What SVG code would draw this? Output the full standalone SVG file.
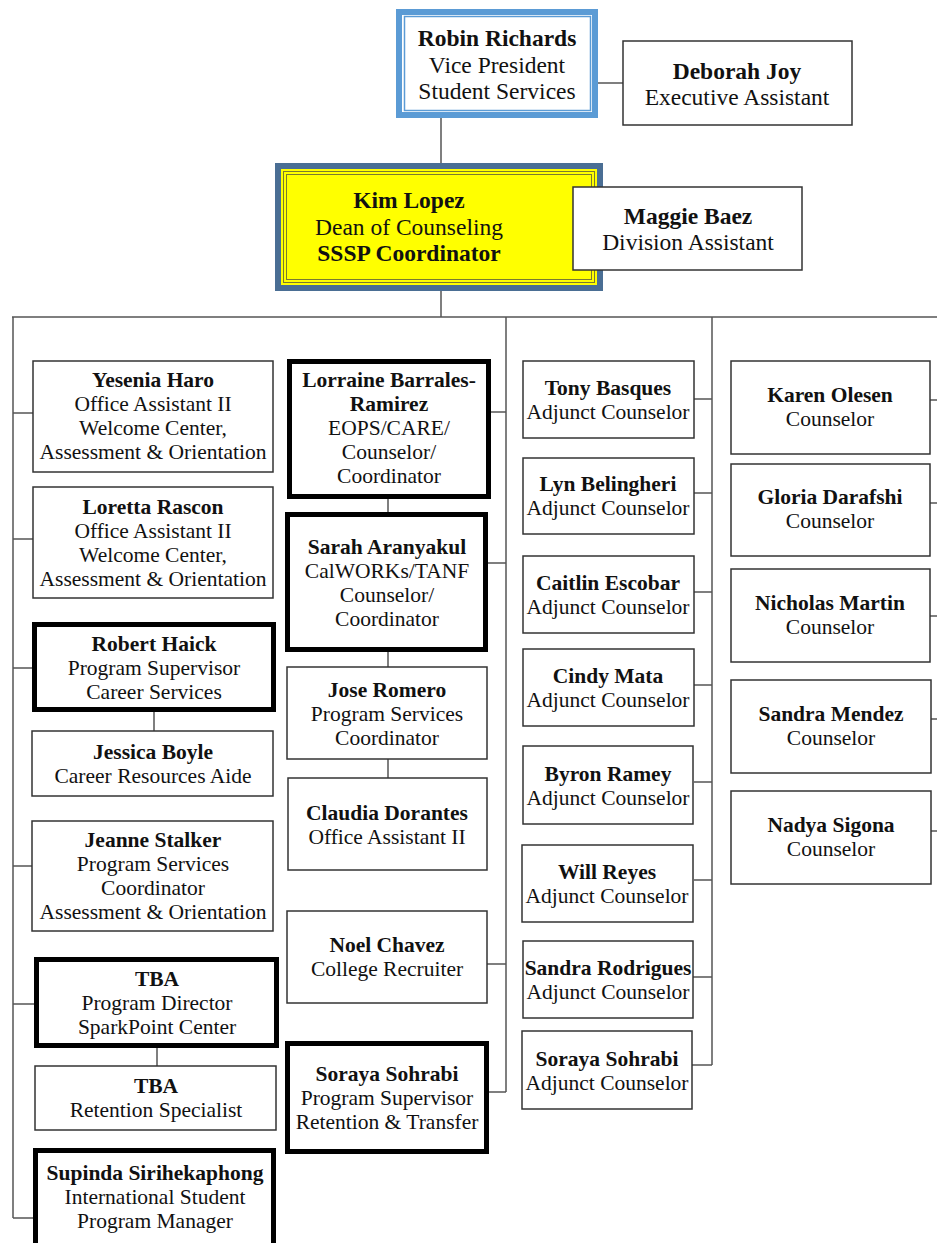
<svg xmlns="http://www.w3.org/2000/svg" width="937" height="1243" viewBox="0 0 937 1243">
<style>
text{font-family:"Liberation Serif","Times New Roman",serif;fill:#111;text-anchor:middle}
.t{font-size:21.5px}
.tt{font-size:23.5px}
.b{font-weight:bold}
.box{fill:#fff;stroke:#333;stroke-width:1.5}
.thick{fill:#fff;stroke:#000;stroke-width:5}
.con{stroke:#555;stroke-width:1.5;fill:none}
</style>
<rect width="937" height="1243" fill="#fff"/>
<g id="connectors">
<path class="con" d="M441 118V163M598 83H623M603 229H573M441 291V317M12 317H937"/>
<path class="con" d="M13 317V1218M13 413H33M13 539H33M13 668H32M13 866H32M13 1004H34M13 1218H33M154 712V731M157 1048V1066"/>
<path class="con" d="M506 317V1092M491 412H506M488 563H506M487 964H506M489 1092H506M388 499V512M388 652V667M388 759V778"/>
<path class="con" d="M712 317V1065M694 399H712M694 493H712M694 592H712M694 685H712M694 782H712M694 880H712M693 977H712M692 1065H712"/>
<path class="con" d="M930 400H937M930 503H937M930 616H937M931 719H937M930 831H937"/>
</g>
<g id="robin">
<rect x="399" y="12" width="196" height="103" fill="#fff" stroke="#5b9bd5" stroke-width="6"/>
<rect x="404.5" y="16.5" width="186" height="94" fill="none" stroke="#5b9bd5" stroke-width="1.5"/>
<text class="tt b" x="497" y="46">Robin Richards</text>
<text class="tt" x="497" y="73">Vice President</text>
<text class="tt" x="497" y="99">Student Services</text>
</g>
<g id="deborah">
<rect class="box" x="623" y="41" width="229" height="84"/>
<text class="tt b" x="737" y="79">Deborah Joy</text>
<text class="tt" x="737" y="105">Executive Assistant</text>
</g>
<g id="kim">
<rect x="278" y="166" width="322" height="122" fill="#ffff00" stroke="#4a6e94" stroke-width="6"/>
<rect x="283.5" y="171.5" width="311" height="111" fill="none" stroke="#7a7a30" stroke-width="1"/>
<rect x="286.5" y="174.5" width="305" height="105" fill="none" stroke="#7a7a30" stroke-width="1"/>
<text class="tt b" x="409" y="208">Kim Lopez</text>
<text class="tt" x="409" y="235">Dean of Counseling</text>
<text class="tt b" x="409" y="261">SSSP Coordinator</text>
</g>
<g id="maggie">
<rect class="box" x="573" y="187" width="229" height="83"/>
<text class="tt b" x="688" y="224">Maggie Baez</text>
<text class="tt" x="688" y="250">Division Assistant</text>
</g>
<g id="yesenia">
<rect class="box" x="33" y="361" width="240" height="111"/>
<text class="t b" x="153" y="387">Yesenia Haro</text>
<text class="t" x="153" y="411">Office Assistant II</text>
<text class="t" x="153" y="435">Welcome Center,</text>
<text class="t" x="153" y="459">Assessment &amp; Orientation</text>
</g>
<g id="loretta">
<rect class="box" x="33" y="487" width="240" height="111"/>
<text class="t b" x="153" y="514">Loretta Rascon</text>
<text class="t" x="153" y="538">Office Assistant II</text>
<text class="t" x="153" y="562">Welcome Center,</text>
<text class="t" x="153" y="586">Assessment &amp; Orientation</text>
</g>
<g id="robert">
<rect class="thick" x="34.5" y="624.5" width="239" height="85"/>
<text class="t b" x="154" y="651">Robert Haick</text>
<text class="t" x="154" y="675">Program Supervisor</text>
<text class="t" x="154" y="699">Career Services</text>
</g>
<g id="jessica">
<rect class="box" x="32" y="731" width="241" height="65"/>
<text class="t b" x="153" y="759">Jessica Boyle</text>
<text class="t" x="153" y="783">Career Resources Aide</text>
</g>
<g id="jeanne">
<rect class="box" x="32" y="821" width="241" height="110"/>
<text class="t b" x="153" y="847">Jeanne Stalker</text>
<text class="t" x="153" y="871">Program Services</text>
<text class="t" x="153" y="895">Coordinator</text>
<text class="t" x="153" y="919">Assessment &amp; Orientation</text>
</g>
<g id="tba-director">
<rect class="thick" x="36.5" y="959.5" width="240" height="86"/>
<text class="t b" x="157" y="986">TBA</text>
<text class="t" x="157" y="1010">Program Director</text>
<text class="t" x="157" y="1034">SparkPoint Center</text>
</g>
<g id="tba-retention">
<rect class="box" x="35" y="1066" width="241" height="64"/>
<text class="t b" x="156" y="1093">TBA</text>
<text class="t" x="156" y="1117">Retention Specialist</text>
</g>
<g id="supinda">
<rect class="thick" x="35.5" y="1150.5" width="238" height="110"/>
<text class="t b" x="155" y="1180">Supinda Sirihekaphong</text>
<text class="t" x="155" y="1204">International Student</text>
<text class="t" x="155" y="1228">Program Manager</text>
</g>
<g id="lorraine">
<rect class="thick" x="289.5" y="361.5" width="199" height="135"/>
<text class="t b" x="389" y="387">Lorraine Barrales-</text>
<text class="t b" x="389" y="411">Ramirez</text>
<text class="t" x="389" y="435">EOPS/CARE/</text>
<text class="t" x="389" y="459">Counselor/</text>
<text class="t" x="389" y="483">Coordinator</text>
</g>
<g id="sarah">
<rect class="thick" x="287.5" y="514.5" width="198" height="135"/>
<text class="t b" x="387" y="554">Sarah Aranyakul</text>
<text class="t" x="387" y="578">CalWORKs/TANF</text>
<text class="t" x="387" y="602">Counselor/</text>
<text class="t" x="387" y="626">Coordinator</text>
</g>
<g id="jose">
<rect class="box" x="287" y="667" width="200" height="92"/>
<text class="t b" x="387" y="697">Jose Romero</text>
<text class="t" x="387" y="721">Program Services</text>
<text class="t" x="387" y="745">Coordinator</text>
</g>
<g id="claudia">
<rect class="box" x="288" y="778" width="199" height="92"/>
<text class="t b" x="387" y="820">Claudia Dorantes</text>
<text class="t" x="387" y="844">Office Assistant II</text>
</g>
<g id="noel">
<rect class="box" x="287" y="911" width="200" height="92"/>
<text class="t b" x="387" y="952">Noel Chavez</text>
<text class="t" x="387" y="976">College Recruiter</text>
</g>
<g id="soraya-supervisor">
<rect class="thick" x="287.5" y="1043.5" width="199" height="108"/>
<text class="t b" x="387" y="1081">Soraya Sohrabi</text>
<text class="t" x="387" y="1105">Program Supervisor</text>
<text class="t" x="387" y="1129">Retention &amp; Transfer</text>
</g>
<g id="tony">
<rect class="box" x="523" y="361" width="171" height="77"/>
<text class="t b" x="608" y="395">Tony Basques</text>
<text class="t" x="608" y="419">Adjunct Counselor</text>
</g>
<g id="lyn">
<rect class="box" x="523" y="458" width="171" height="76"/>
<text class="t b" x="608" y="491">Lyn Belingheri</text>
<text class="t" x="608" y="515">Adjunct Counselor</text>
</g>
<g id="caitlin">
<rect class="box" x="523" y="556" width="171" height="77"/>
<text class="t b" x="608" y="590">Caitlin Escobar</text>
<text class="t" x="608" y="614">Adjunct Counselor</text>
</g>
<g id="cindy">
<rect class="box" x="523" y="649" width="171" height="77"/>
<text class="t b" x="608" y="683">Cindy Mata</text>
<text class="t" x="608" y="707">Adjunct Counselor</text>
</g>
<g id="byron">
<rect class="box" x="523" y="746" width="170" height="78"/>
<text class="t b" x="608" y="781">Byron Ramey</text>
<text class="t" x="608" y="805">Adjunct Counselor</text>
</g>
<g id="will">
<rect class="box" x="522" y="845" width="171" height="77"/>
<text class="t b" x="607" y="879">Will Reyes</text>
<text class="t" x="607" y="903">Adjunct Counselor</text>
</g>
<g id="sandra-rodrigues">
<rect class="box" x="523" y="941" width="170" height="77"/>
<text class="t b" x="608" y="975">Sandra Rodrigues</text>
<text class="t" x="608" y="999">Adjunct Counselor</text>
</g>
<g id="soraya-adjunct">
<rect class="box" x="522" y="1031" width="170" height="78"/>
<text class="t b" x="607" y="1066">Soraya Sohrabi</text>
<text class="t" x="607" y="1090">Adjunct Counselor</text>
</g>
<g id="karen">
<rect class="box" x="731" y="361" width="199" height="93"/>
<text class="t b" x="830" y="402">Karen Olesen</text>
<text class="t" x="830" y="426">Counselor</text>
</g>
<g id="gloria">
<rect class="box" x="731" y="464" width="199" height="92"/>
<text class="t b" x="830" y="504">Gloria Darafshi</text>
<text class="t" x="830" y="528">Counselor</text>
</g>
<g id="nicholas">
<rect class="box" x="731" y="569" width="199" height="93"/>
<text class="t b" x="830" y="610">Nicholas Martin</text>
<text class="t" x="830" y="634">Counselor</text>
</g>
<g id="sandra-mendez">
<rect class="box" x="731" y="680" width="200" height="93"/>
<text class="t b" x="831" y="721">Sandra Mendez</text>
<text class="t" x="831" y="745">Counselor</text>
</g>
<g id="nadya">
<rect class="box" x="731" y="791" width="200" height="93"/>
<text class="t b" x="831" y="832">Nadya Sigona</text>
<text class="t" x="831" y="856">Counselor</text>
</g>
</svg>
